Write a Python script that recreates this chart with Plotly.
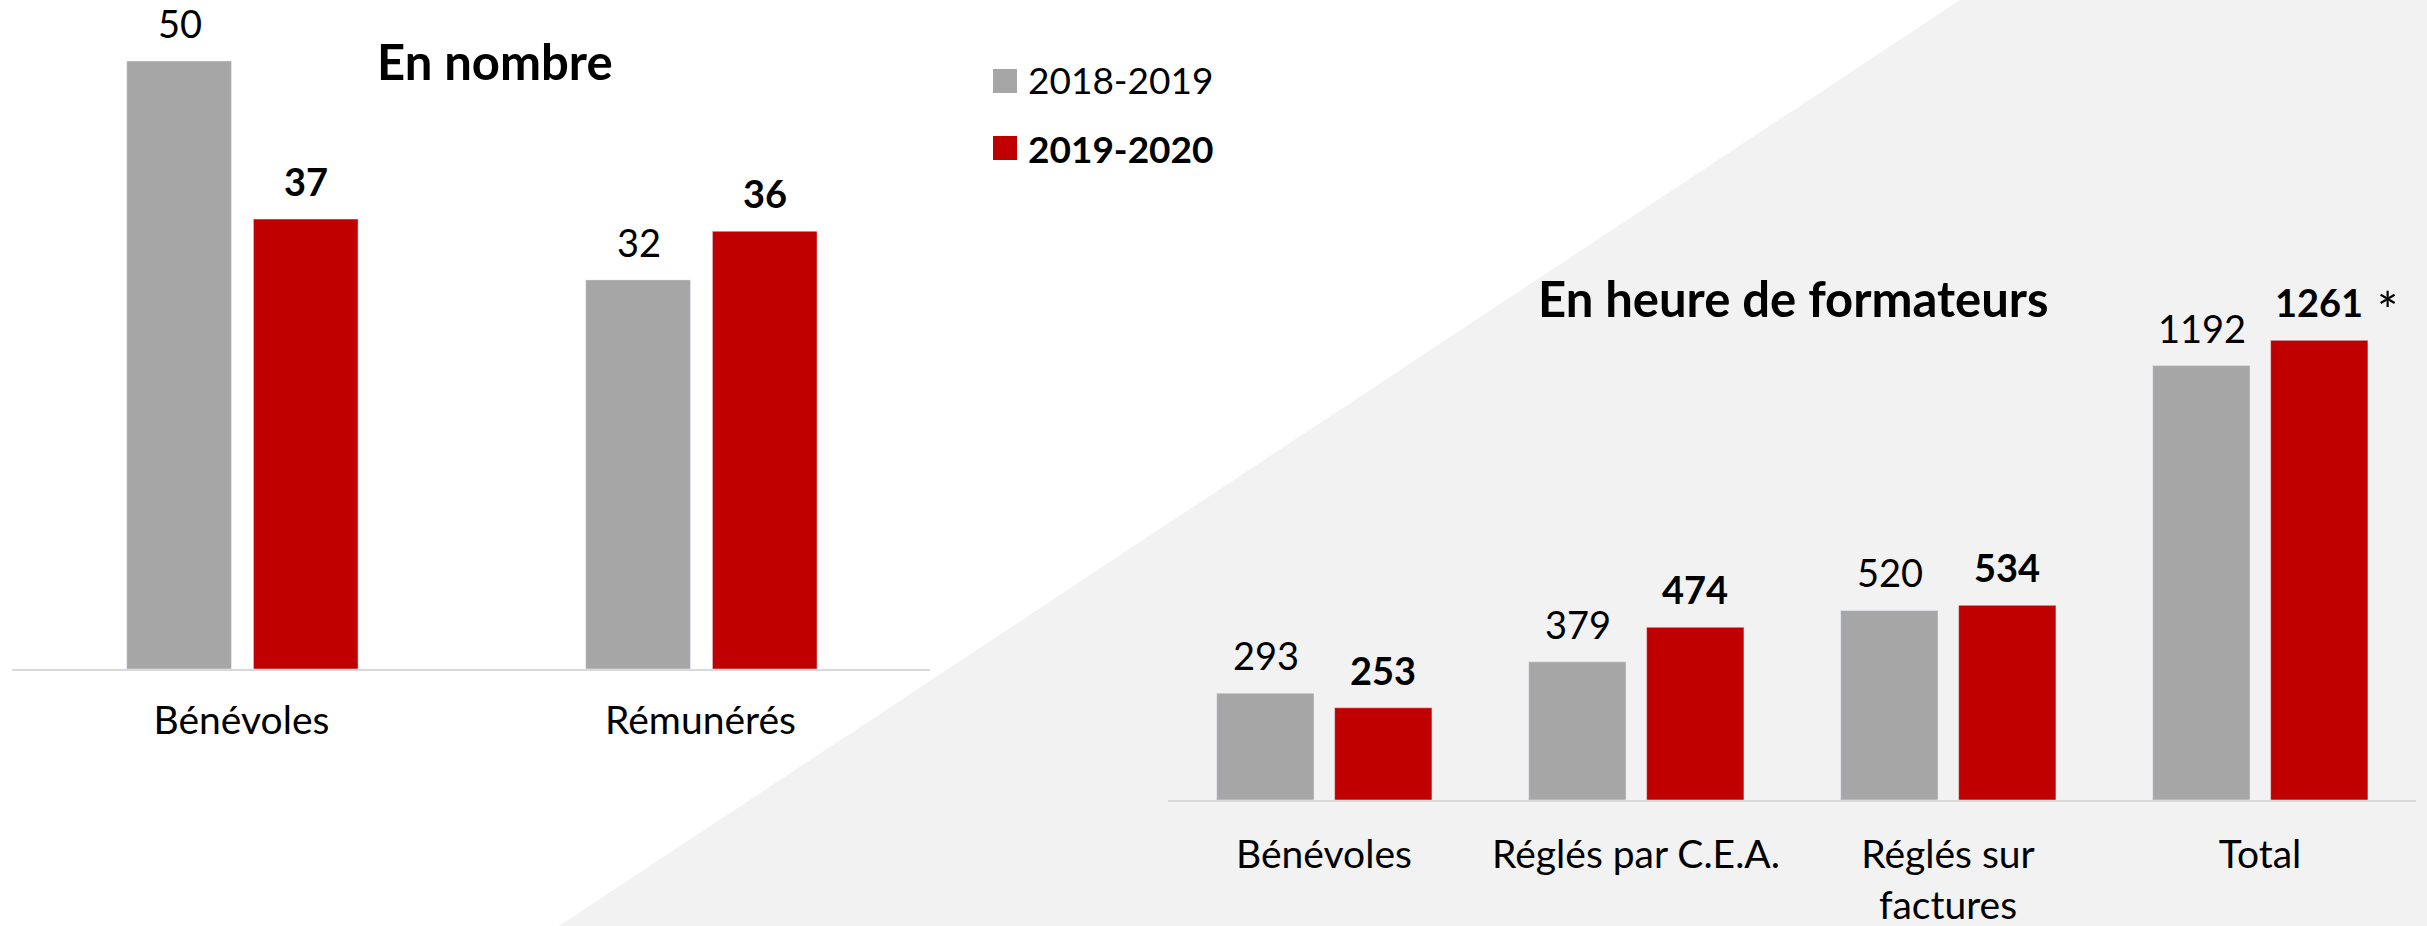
import plotly.graph_objects as go

W, H = 2427, 926

# ---------------- data ----------------
series_names = ["2018-2019", "2019-2020"]

cats_left = ["Bénévoles", "Rémunérés"]
left_2018 = [50, 32]
left_2019 = [37, 36]

cats_right = ["Bénévoles", "Réglés par C.E.A.", "Réglés sur<br>factures", "Total"]
right_2018 = [293, 379, 520, 1192]
right_2019 = [253, 474, 534, 1261]

titles = ["En nombre", "En heure de formateurs"]
total_note = "*"

# ---------------- style ----------------
GRAY = "#a6a6a6"
RED = "#c00000"
FONT = "Lato, Carlito, Calibri, sans-serif"
LBL = 39
VAL = 38
TIT = 49
LEG = 37


def px_x(p):
    return p / W


def px_y(p):
    return 1 - p / H


fig = go.Figure()

# left chart bars
fig.add_trace(go.Bar(x=cats_left, y=left_2018, name=series_names[0], marker_color=GRAY,
                     width=0.228, offset=-0.25, xaxis="x", yaxis="y", showlegend=False))
fig.add_trace(go.Bar(x=cats_left, y=left_2019, name=series_names[1], marker_color=RED,
                     width=0.228, offset=0.026, xaxis="x", yaxis="y", showlegend=False))
# right chart bars
fig.add_trace(go.Bar(x=cats_right, y=right_2018, name=series_names[0], marker_color=GRAY,
                     width=0.312, offset=-0.344, xaxis="x2", yaxis="y2", showlegend=False))
fig.add_trace(go.Bar(x=cats_right, y=right_2019, name=series_names[1], marker_color=RED,
                     width=0.312, offset=0.034, xaxis="x2", yaxis="y2", showlegend=False))

annotations = []
YS = 13
vfont = dict(family=FONT, size=VAL, color="black")
# value labels
for c, v in zip(cats_left, left_2018):
    annotations.append(dict(x=c, y=v, xref="x", yref="y", text=str(v), showarrow=False,
                            xshift=-62, yshift=YS, xanchor="center", yanchor="bottom", font=vfont))
for c, v in zip(cats_left, left_2019):
    annotations.append(dict(x=c, y=v, xref="x", yref="y", text="<b>%d</b>" % v, showarrow=False,
                            xshift=64, yshift=YS, xanchor="center", yanchor="bottom", font=vfont))
for c, v in zip(cats_right, right_2018):
    annotations.append(dict(x=c, y=v, xref="x2", yref="y2", text=str(v), showarrow=False,
                            xshift=-58, yshift=YS, xanchor="center", yanchor="bottom", font=vfont))
for c, v in zip(cats_right, right_2019):
    annotations.append(dict(x=c, y=v, xref="x2", yref="y2", text="<b>%d</b>" % v, showarrow=False,
                            xshift=59, yshift=YS, xanchor="center", yanchor="bottom", font=vfont))
# asterisk next to total
annotations.append(dict(x=cats_right[-1], y=right_2019[-1], xref="x2", yref="y2", text=total_note,
                        showarrow=False, xshift=127, yshift=-2, xanchor="center", yanchor="bottom",
                        font=dict(family=FONT, size=50, color="black")))

# titles
annotations.append(dict(x=px_x(495), y=px_y(61), xref="paper", yref="paper", text="<b>%s</b>" % titles[0],
                        showarrow=False, xanchor="center", yanchor="middle",
                        font=dict(family=FONT, size=TIT, color="black")))
annotations.append(dict(x=px_x(1793), y=px_y(298), xref="paper", yref="paper", text="<b>%s</b>" % titles[1],
                        showarrow=False, xanchor="center", yanchor="middle",
                        font=dict(family=FONT, size=TIT, color="black")))

# legend (manual)
annotations.append(dict(x=px_x(1026), y=px_y(80), xref="paper", yref="paper", text=series_names[0],
                        showarrow=False, xanchor="left", yanchor="middle",
                        font=dict(family=FONT, size=LEG, color="black")))
annotations.append(dict(x=px_x(1026), y=px_y(148), xref="paper", yref="paper", text="<b>%s</b>" % series_names[1],
                        showarrow=False, xanchor="left", yanchor="middle",
                        font=dict(family=FONT, size=LEG, color="black")))

shapes = [
    # light gray diagonal background
    dict(type="path", xref="paper", yref="paper", layer="below",
         path="M %f,1 L 1.01,1 L 1.01,-0.01 L %f,-0.01 Z" % (px_x(1960), px_x(545)),
         fillcolor="#f2f2f2", line=dict(width=0)),
    dict(type="rect", xref="paper", yref="paper", x0=px_x(993), x1=px_x(1017), y0=px_y(93), y1=px_y(69),
         fillcolor=GRAY, line=dict(width=0)),
    dict(type="rect", xref="paper", yref="paper", x0=px_x(993), x1=px_x(1017), y0=px_y(160), y1=px_y(136),
         fillcolor=RED, line=dict(width=0)),
]

axis_common = dict(showgrid=False, zeroline=False, showline=True, linecolor="#d9d9d9", linewidth=2,
                   ticks="", tickfont=dict(family=FONT, size=LBL, color="black"), fixedrange=True)

fig.update_layout(
    width=W, height=H,
    margin=dict(l=0, r=0, t=0, b=0),
    paper_bgcolor="white", plot_bgcolor="rgba(0,0,0,0)",
    barmode="group",
    showlegend=False,
    font=dict(family=FONT, color="black"),
    xaxis=dict(domain=[px_x(12), px_x(930)], anchor="y", ticklabelstandoff=16, **axis_common),
    yaxis=dict(domain=[px_y(669), 1], range=[0, 669 / 12.16], visible=False, anchor="x"),
    xaxis2=dict(domain=[px_x(1168), px_x(2416)], anchor="y2", ticklabelstandoff=19, **axis_common),
    yaxis2=dict(domain=[px_y(800), 1], range=[0, 800 / 0.3645], visible=False, anchor="x2"),
    annotations=annotations,
    shapes=shapes,
)

fig.write_html("out.html",
               config={"displayModeBar": False},
               post_script="document.body.style.margin='0px';document.body.style.overflow='hidden';")
